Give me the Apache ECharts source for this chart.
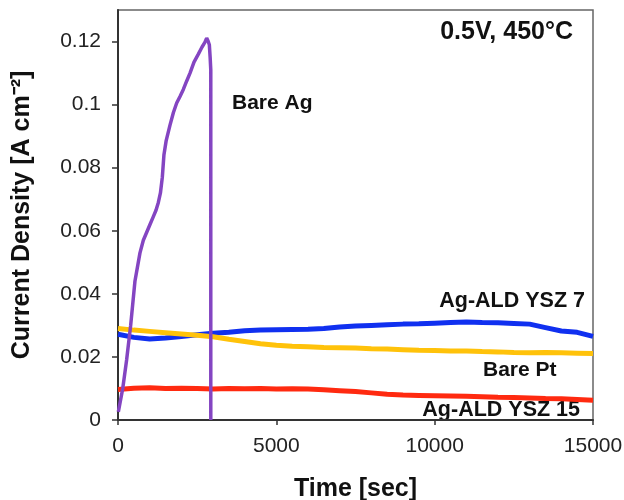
<!DOCTYPE html>
<html>
<head>
<meta charset="utf-8">
<script src="https://cdn.jsdelivr.net/npm/echarts@6/dist/echarts.min.js"></script>
<style>
html,body{margin:0;padding:0;background:#fff;}
#c{width:624px;height:500px;}
</style>
</head>
<body>
<div id="c"></div>
<script>
// Time grid (sec) for the slow-varying cells
var timeSec = [0,500,1000,1500,2000,2500,3000,3500,4000,4500,5000,5500,6000,6500,7000,7500,8000,8500,9000,9500,10000,10500,11000,11500,12000,12500,13000,13500,14000,14500,15000];

var ysz7 = [0.0272,0.0262,0.0257,0.0260,0.0265,0.0270,0.0275,0.0278,0.0283,0.0285,0.0286,0.0287,0.0288,0.0290,0.0295,0.0298,0.0300,0.0302,0.0304,0.0305,0.0307,0.0309,0.0311,0.0309,0.0308,0.0306,0.0304,0.0293,0.0282,0.0278,0.0265];

var barePt = [0.0290,0.0285,0.0281,0.0277,0.0273,0.0269,0.0264,0.0256,0.0249,0.0242,0.0237,0.0234,0.0232,0.0230,0.0229,0.0228,0.0226,0.0225,0.0223,0.0221,0.0220,0.0219,0.0219,0.0217,0.0216,0.0214,0.0213,0.0214,0.0213,0.0212,0.0211];

var ysz15 = [0.0097,0.0101,0.0102,0.0100,0.0101,0.0100,0.0098,0.0100,0.0099,0.0100,0.0098,0.0099,0.0098,0.0096,0.0093,0.0090,0.0086,0.0082,0.0079,0.0078,0.0077,0.0076,0.0075,0.0074,0.0072,0.0071,0.0070,0.0068,0.0067,0.0065,0.0063];

// Bare Ag: rises then cell fails at ~2930 s
var bareAgTime = [10,150,272,400,535,694,800,1010,1116,1200,1274,1340,1400,1450,1520,1642,1750,1853,1958,2063,2170,2274,2400,2537,2650,2747,2800,2850,2884,2910,2930,2930];
var bareAg = [0.0026,0.0100,0.0190,0.0300,0.0440,0.0530,0.0570,0.0620,0.0645,0.0665,0.0690,0.0720,0.0770,0.0840,0.0885,0.0935,0.0975,0.1005,0.1026,0.1048,0.1075,0.1100,0.1135,0.1160,0.1182,0.1198,0.1211,0.1200,0.1190,0.1150,0.1110,0];

var yTicks = [0,0.02,0.04,0.06,0.08,0.1,0.12];
var xTicks = [0,5000,10000,15000];

function pairs(t, v){ return t.map(function(x,i){ return [x, v[i]]; }); }

var chart = echarts.init(document.getElementById('c'));
var FONT = 'Liberation Sans, Arial, sans-serif';
chart.setOption({
  animation:false,
  backgroundColor:'#fff',
  grid:{left:118,right:31,top:10,bottom:80,outerBoundsMode:'none',containLabel:false,show:true,borderColor:'#666',borderWidth:1.5,backgroundColor:'transparent'},
  xAxis:{
    type:'value',min:0,max:15000,interval:5000,
    name:'Time [sec]',nameLocation:'middle',nameGap:57,
    nameTextStyle:{fontFamily:FONT,fontSize:25,fontWeight:'bold',color:'#111'},
    axisLine:{show:true,onZero:false,lineStyle:{color:'#333',width:2}},
    axisTick:{show:true,length:5,lineStyle:{color:'#333',width:1.5}},
    axisLabel:{fontFamily:FONT,fontSize:21,color:'#222',margin:16,customValues:xTicks,
      formatter:function(v){return String(Math.round(v));}},
    splitLine:{show:false}
  },
  yAxis:{
    type:'value',min:0,max:0.13,interval:0.02,
    name:'Current Density [A cm\u207B\u00B2]',nameLocation:'middle',nameGap:83,
    nameTextStyle:{fontFamily:FONT,fontSize:25,fontWeight:'bold',color:'#111'},
    axisLine:{show:true,onZero:false,lineStyle:{color:'#333',width:2}},
    axisTick:{show:true,length:6,lineStyle:{color:'#333',width:1.5},customValues:yTicks},
    axisLabel:{fontFamily:FONT,fontSize:21,color:'#222',margin:17,customValues:yTicks,
      formatter:function(v){return String(+v.toFixed(2));}},
    splitLine:{show:false}
  },
  series:[
    {name:'Ag-ALD YSZ 7',type:'line',showSymbol:false,data:pairs(timeSec,ysz7),lineStyle:{color:'#1030F0',width:5},itemStyle:{color:'#1030F0'},z:2},
    {name:'Bare Pt',type:'line',showSymbol:false,data:pairs(timeSec,barePt),lineStyle:{color:'#FFC20A',width:5},itemStyle:{color:'#FFC20A'},z:3},
    {name:'Ag-ALD YSZ 15',type:'line',showSymbol:false,data:pairs(timeSec,ysz15),lineStyle:{color:'#FF2A10',width:5},itemStyle:{color:'#FF2A10'},z:3},
    {name:'Bare Ag',type:'line',showSymbol:false,data:pairs(bareAgTime,bareAg),lineStyle:{color:'#8445C2',width:3.5},itemStyle:{color:'#8445C2'},z:5}
  ],
  graphic:[
    {type:'text',right:51,top:20,style:{text:'0.5V, 450\u00B0C',font:'bold 25px '+FONT,fill:'#111'}},
    {type:'text',left:232,top:93,style:{text:'Bare Ag',font:'bold 21px '+FONT,fill:'#111'}},
    {type:'text',right:39,top:290,style:{text:'Ag-ALD YSZ 7',font:'bold 21.5px '+FONT,fill:'#111'}},
    {type:'text',left:483,top:360,style:{text:'Bare Pt',font:'bold 21px '+FONT,fill:'#111'}},
    {type:'text',right:44,top:399,style:{text:'Ag-ALD YSZ 15',font:'bold 21.5px '+FONT,fill:'#111'}}
  ]
});
</script>
</body>
</html>
